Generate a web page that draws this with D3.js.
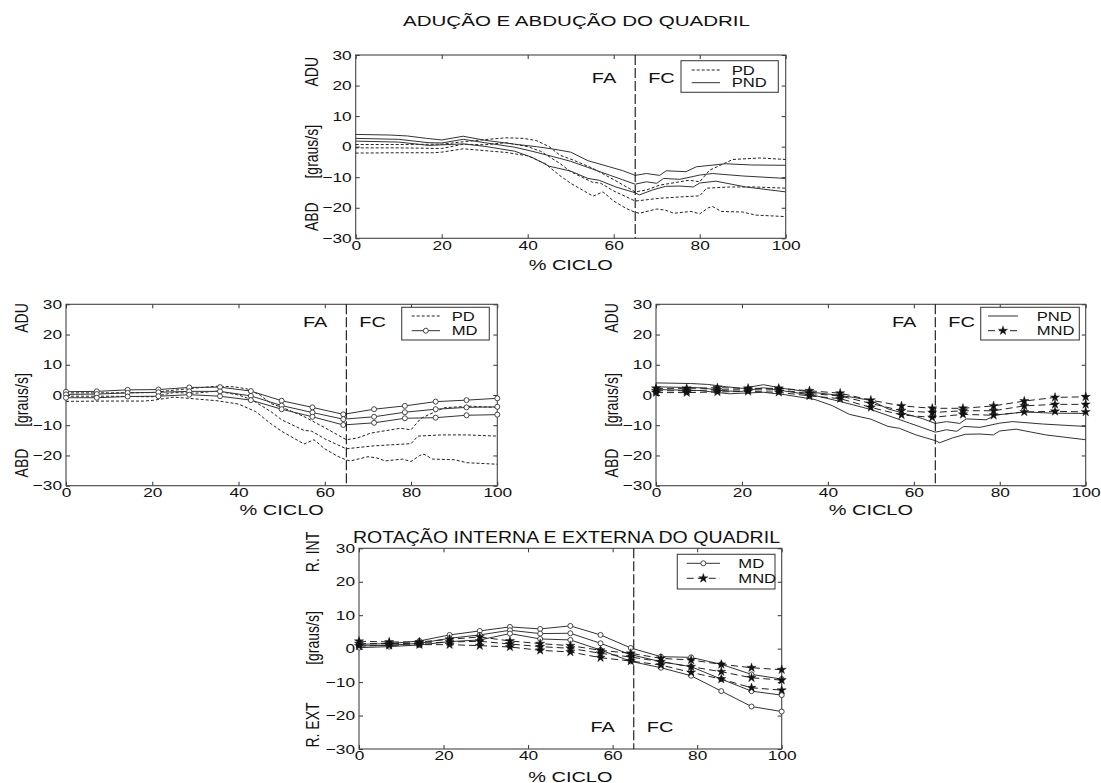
<!DOCTYPE html>
<html>
<head>
<meta charset="utf-8">
<script src="https://cdn.jsdelivr.net/npm/d3@7"></script>
<style>
  body { margin: 0; background: #fff; }
  svg { display: block; }
  text { font-family: "Liberation Sans", Arial, sans-serif; fill: #111; }
</style>
</head>
<body>
<svg id="chart" width="1101" height="783"></svg>
<script>
const xTicks = [0, 20, 40, 60, 80, 100];
const yTicks = [-30, -20, -10, 0, 10, 20, 30];
const phaseSplit = 65;

// sampled curves, [% ciclo, graus/s]
const pdUpper = [[0,0.7],[10,0.7],[20,0.8],[25,1.6],[30,2.3],[35,2.9],[39,2.7],[42,2],[45,0],[47.5,-2.8],[50.6,-4.4],[55,-7],[60,-10.8],[65,-14.8],[67.6,-14.2],[70.7,-12.6],[77.5,-11],[80,-11.5],[82.3,-7.7],[87.7,-4.2],[94,-3.7],[100,-4.2]];
const pdMean = [[0,-0.4],[10,-0.4],[20,-0.6],[25,0.8],[30,0.6],[35,1.3],[40,0],[43,-1.5],[47.5,-5.5],[50,-8.2],[55,-11.6],[57,-12],[60,-14.5],[65,-17.8],[70.7,-16.9],[75,-16.5],[80,-16.1],[81.6,-13.6],[87,-13.2],[93,-13.2],[100,-13.6]];
const pdLower = [[0,-2.1],[10,-2],[18,-2],[20,-1.8],[25,-0.7],[30,-1.3],[35,-1.9],[40,-3],[44,-5.5],[47.5,-9.5],[50,-12],[55.2,-16.2],[57.5,-14.8],[60,-17.8],[63,-20.3],[65,-21.5],[66,-21.8],[70,-20.4],[72,-20.8],[74,-21.8],[78,-21.2],[80,-22],[82,-20],[83,-19.6],[85,-21.2],[90,-21.4],[93,-22.4],[100,-22.9]];

const pndUpper = [[0,4.0],[8,3.8],[12,3.5],[16.5,2.7],[20,2.2],[25,3.4],[30,2.1],[37,0.8],[42,0],[46,-0.8],[50,-1.8],[54,-4.6],[59,-6.6],[62,-7.8],[65,-9.4],[67.6,-8.8],[70.7,-9.4],[72.2,-7.9],[76.8,-8.2],[79.2,-6.6],[86,-5.6],[92,-6],[100,-6.1]];
const pndMean = [[0,2.7],[10,2.4],[16.9,1.3],[20,1.2],[25,2.4],[30,1.3],[37,-0.2],[41,-1.5],[46,-3.3],[50,-4.8],[54,-6.8],[59,-9.3],[62,-10.8],[65,-12.3],[67.6,-11.5],[70,-12],[71.6,-10.4],[75.4,-10.7],[80,-9.3],[83,-8.8],[90,-9.6],[100,-10.4]];
const pndLower = [[0,1.8],[10,1.5],[17,0.4],[20,0.6],[25,0.9],[30,0.1],[37,-1.5],[41,-3.5],[45,-6.4],[50,-8],[54,-10.4],[56.6,-11],[60.5,-13.2],[65,-15.1],[66,-15.8],[69,-14.2],[72,-13],[75.4,-12.9],[78.5,-13.2],[80,-11.9],[83.8,-11.3],[90.7,-13.2],[100,-14.8]];

// marker series share these x positions
const markerX = [0, 7.14, 14.29, 21.43, 28.57, 35.71, 42.86, 50, 57.14, 64.29, 71.43, 78.57, 85.71, 92.86, 100];
const mdUpper = [1.1, 1.2, 1.7, 1.8, 2.5, 2.6, 1.3, -1.9, -4.1, -6.4, -4.7, -3.6, -2.2, -1.7, -1.1];
const mdMean  = [0.2, 0.3, 0.7, 0.9, 1.2, 1.2, -0.3, -3.5, -5.8, -8.0, -7.2, -5.7, -4.7, -4.1, -3.9];
const mdLower = [-0.9, -0.9, -0.5, -0.4, 0.1, -0.4, -1.7, -4.7, -7.2, -9.9, -9.2, -7.7, -7.5, -6.7, -6.5];
const mndUpper = [2.2, 2.2, 2.4, 2.2, 2.2, 1.4, 0.6, -1.7, -3.6, -4.4, -4.4, -3.6, -2.0, -0.8, -0.6];
const mndMean  = [1.4, 1.4, 1.7, 1.7, 1.7, 0.5, -0.3, -2.8, -5.2, -5.8, -5.2, -5.2, -3.6, -3.1, -3.1];
const mndLower = [0.8, 0.8, 1.0, 1.2, 0.9, -0.3, -1.2, -4.1, -6.6, -7.4, -6.4, -6.7, -5.6, -5.4, -5.6];
const mdRotUpper = [1.3, 1.5, 2.3, 4.1, 5.3, 6.5, 5.9, 6.8, 4.1, 0.2, -2.4, -2.6, -4.7, -7.7, -9.1];
const mdRotMean  = [0.8, 1.0, 1.6, 3.1, 4.1, 5.5, 4.5, 4.6, 1.6, -1.8, -3.9, -5.4, -9.1, -12.7, -13.9];
const mdRotLower = [0.3, 0.6, 1.1, 2.1, 2.6, 4.5, 2.9, 2.6, -0.4, -3.8, -5.7, -8.1, -12.7, -17.3, -18.8];
const mndRotUpper = [2.2, 2.0, 2.0, 2.8, 3.5, 2.3, 1.5, 0.9, -0.5, -1.4, -2.9, -3.4, -4.7, -5.7, -6.3];
const mndRotMean  = [1.5, 1.5, 1.6, 2.0, 2.2, 1.4, 0.6, 0.1, -1.4, -2.5, -3.9, -5.4, -6.9, -8.7, -9.4];
const mndRotLower = [0.8, 1.0, 1.2, 1.2, 0.9, 0.5, -0.5, -1.0, -2.7, -3.7, -4.9, -7.1, -9.1, -11.7, -12.4];

const withX = (vals) => vals.map((v, i) => [markerX[i], v]);

const styles = {
    pd:  { dash: "3,2", marker: null, color: "#222" },
    pnd: { dash: null, marker: null, color: "#333" },
    md:  { dash: null, marker: "circle", color: "#333" },
    mnd: { dash: "7,4", marker: "star", color: "#222" }
};

const SX = 1.33; // the figure is stretched horizontally

const panels = [
    { left: 355.7, right: 785.7, top: 55, bottom: 238.3,
      yLabels: ["ADU", "[graus/s]", "ABD"], yLabelX: 312, yLabelY: [71.7, 151.7, 216.7],
      xLabelY: 270, faY: 82.7,
      groups: [{ key: "pd", lines: [pdUpper, pdMean, pdLower] },
               { key: "pnd", lines: [pndUpper, pndMean, pndLower] }],
      legend: { x: 681, y: 60.7, w: 97.3, h: 31.6, l0: 10.7, l1: 39, t: 50.7, r0: 9.3, r1: 22,
                rows: [{ key: "pd", label: "PD" }, { key: "pnd", label: "PND" }] } },
    { left: 66, right: 497.3, top: 304.3, bottom: 485.7,
      yLabels: ["ADU", "[graus/s]", "ABD"], yLabelX: 21.7, yLabelY: [318, 400, 463],
      xLabelY: 515, faY: 327.3,
      groups: [{ key: "pd", lines: [pdUpper, pdMean, pdLower] },
               { key: "md", lines: [withX(mdUpper), withX(mdMean), withX(mdLower)] }],
      legend: { x: 401.7, y: 307.3, w: 87.6, h: 32.7, l0: 10, l1: 38.3, t: 50, r0: 8.7, r1: 23.4,
                rows: [{ key: "pd", label: "PD" }, { key: "md", label: "MD" }] } },
    { left: 656, right: 1085.7, top: 304.3, bottom: 485.7,
      yLabels: ["ADU", "[graus/s]", "ABD"], yLabelX: 611.7, yLabelY: [318, 400, 463],
      xLabelY: 515, faY: 327.3,
      groups: [{ key: "pnd", lines: [pndUpper, pndMean, pndLower] },
               { key: "mnd", lines: [withX(mndUpper), withX(mndMean), withX(mndLower)] }],
      legend: { x: 980.7, y: 307.3, w: 98.6, h: 32.7, l0: 7.3, l1: 37.3, t: 56, r0: 8.7, r1: 23.4,
                rows: [{ key: "pnd", label: "PND" }, { key: "mnd", label: "MND" }] } },
    { left: 359, right: 781.7, top: 548.3, bottom: 749,
      yLabels: ["R. INT", "[graus/s]", "R. EXT"], yLabelX: 313, yLabelY: [552, 638, 725],
      xLabelY: 781.5, faY: 732.3,
      groups: [{ key: "md", lines: [withX(mdRotUpper), withX(mdRotMean), withX(mdRotLower)] },
               { key: "mnd", lines: [withX(mndRotUpper), withX(mndRotMean), withX(mndRotLower)] }],
      legend: { x: 677.3, y: 554.3, w: 97.7, h: 34.7, l0: 9.4, l1: 42.7, t: 61, r0: 9, r1: 24,
                rows: [{ key: "md", label: "MD" }, { key: "mnd", label: "MND" }] } }
];

const svg = d3.select("#chart");

function stretchText(parent, x, y, str, size, anchor) {
    parent.append("g")
          .attr("transform", `translate(${x},${y})`)
          .append("text")
          .attr("transform", `scale(${SX},1)`)
          .attr("text-anchor", anchor || "middle")
          .style("font-size", size + "px")
          .text(str);
}

function drawMarker(g, key, px, py, color) {
    if (key === "circle") {
        g.append("circle").attr("cx", px).attr("cy", py).attr("r", 2.5)
         .style("fill", "#fff").style("stroke", color).style("stroke-width", 0.9);
    } else if (key === "star") {
        g.append("path").attr("d", d3.symbol(d3.symbolStar, 26)())
         .attr("transform", `translate(${px},${py})`)
         .style("fill", "#111").style("stroke", "#111").style("stroke-width", 0.4);
    }
}

function drawPanel(p) {
    const x = d3.scaleLinear().domain([0, 100]).range([p.left, p.right]);
    const y = d3.scaleLinear().domain([-30, 30]).range([p.bottom, p.top]);
    const g = svg.append("g");

    // axes with inward ticks on all four sides
    g.append("g").attr("transform", `translate(0,${p.bottom})`)
     .call(d3.axisBottom(x).tickValues(xTicks).tickSizeInner(-4).tickSizeOuter(0).tickPadding(2));
    g.append("g").attr("transform", `translate(${p.left},0)`)
     .call(d3.axisLeft(y).tickValues(yTicks).tickSizeInner(-4).tickSizeOuter(0).tickPadding(3));
    g.append("g").attr("transform", `translate(0,${p.top})`)
     .call(d3.axisTop(x).tickValues(xTicks).tickSizeInner(-4).tickSizeOuter(0).tickFormat(""));
    g.append("g").attr("transform", `translate(${p.right},0)`)
     .call(d3.axisRight(y).tickValues(yTicks).tickSizeInner(-4).tickSizeOuter(0).tickFormat(""));
    g.selectAll(".domain").remove();
    g.selectAll(".tick line").style("stroke", "#333");
    g.selectAll(".tick text").style("font-size", "13px").style("font-family", "\"Liberation Sans\", Arial, sans-serif")
     .attr("fill", "#111").attr("transform", `scale(${SX},1)`);

    g.append("rect").attr("x", p.left).attr("y", p.top)
     .attr("width", p.right - p.left).attr("height", p.bottom - p.top)
     .style("fill", "none").style("stroke", "#444").style("stroke-width", 1.1);

    // series
    const line = d3.line().x((d) => x(d[0])).y((d) => y(d[1]));
    for (const grp of p.groups) {
        const st = styles[grp.key];
        for (const pts of grp.lines) {
            g.append("path").attr("d", line(pts))
             .style("fill", "none").style("stroke", st.color).style("stroke-width", 1)
             .style("stroke-dasharray", st.dash);
            if (st.marker) {
                for (const d of pts) drawMarker(g, st.marker, x(d[0]), y(d[1]), st.color);
            }
        }
    }

    // phase split
    const sx = x(phaseSplit);
    g.append("line").attr("x1", sx).attr("x2", sx).attr("y1", p.top).attr("y2", p.bottom)
     .style("stroke", "#111").style("stroke-width", 1.1).style("stroke-dasharray", "10,3");
    stretchText(g, sx - 19, p.faY, "FA", 15, "end");
    stretchText(g, sx + 13, p.faY, "FC", 15, "start");

    // legend
    const L = p.legend;
    const lg = g.append("g").attr("transform", `translate(${L.x},${L.y})`);
    lg.append("rect").attr("width", L.w).attr("height", L.h)
      .style("fill", "#fff").style("stroke", "#444").style("stroke-width", 1.1);
    L.rows.forEach((row, i) => {
        const st = styles[row.key];
        const ry = i === 0 ? L.r0 : L.r1;
        lg.append("line").attr("x1", L.l0).attr("x2", L.l1).attr("y1", ry).attr("y2", ry)
          .style("stroke", st.color).style("stroke-width", 1).style("stroke-dasharray", st.dash);
        if (st.marker) drawMarker(lg, st.marker, (L.l0 + L.l1) / 2, ry, st.color);
        stretchText(lg, L.t, ry + 4.5, row.label, 12.5, "start");
    });

    // axis labels
    stretchText(g, (p.left + p.right) / 2, p.xLabelY, "% CICLO", 15, "middle");
    p.yLabels.forEach((lbl, i) => {
        g.append("text")
         .attr("transform", `translate(${p.yLabelX + 6},${p.yLabelY[i]}) rotate(-90) scale(1,${SX})`)
         .attr("text-anchor", "middle")
         .style("font-size", "14px")
         .text(lbl);
    });
}

panels.forEach(drawPanel);

// titles
svg.append("text").attr("x", 576.5).attr("y", 26).attr("text-anchor", "middle")
   .attr("textLength", 347).attr("lengthAdjust", "spacingAndGlyphs")
   .style("font-size", "15px").text("ADUÇÃO E ABDUÇÃO DO QUADRIL");
svg.append("text").attr("x", 566.5).attr("y", 543).attr("text-anchor", "middle")
   .attr("textLength", 427).attr("lengthAdjust", "spacingAndGlyphs")
   .style("font-size", "16px").text("ROTAÇÃO INTERNA E EXTERNA DO QUADRIL");
</script>
</body>
</html>
